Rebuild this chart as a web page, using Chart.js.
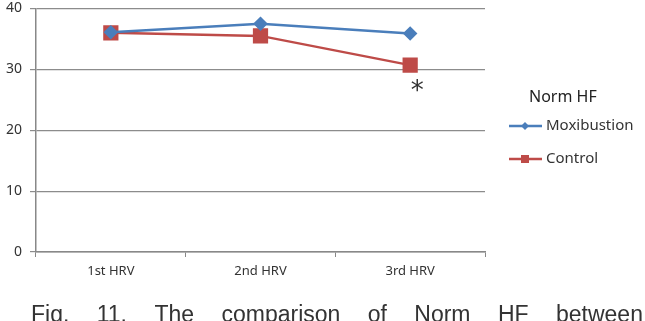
<!DOCTYPE html>
<html>
<head>
<meta charset="utf-8">
<script src="https://cdn.jsdelivr.net/npm/chart.js@4"></script>
<style>
    body { margin: 0; background: #fff; }
    .wrap { position: relative; width: 645px; height: 321px; overflow: hidden; }
    #myChart { position: absolute; left: 0; top: -3px; }
    .caption {
        position: absolute; left: 31px; width: 612px; top: 303px;
        font-family: 'Liberation Sans', sans-serif; font-size: 23px; line-height: 23px; color: #333;
        white-space: nowrap; display: flex; justify-content: space-between;
    }
</style>
</head>
<body>
<div class="wrap">
    <canvas id="myChart" width="645" height="324"></canvas>
    <div class="caption"><span>Fig.</span><span>11.</span><span>The</span><span>comparison</span><span>of</span><span>Norm</span><span>HF</span><span>between</span></div>
</div>
<script>
// data
const labels = ['1st HRV', '2nd HRV', '3rd HRV'];
const moxibustion = [36.1, 37.5, 35.9];
const control = [36.0, 35.5, 30.7];
const yTicks = [0, 10, 20, 30, 40];

const blue = '#4a7ebb';
const red = '#be4b48';

// legend + asterisk drawn by hand, Excel style
const extras = {
    id: 'extras',
    afterDraw(chart) {
        const ctx = chart.ctx;
        ctx.save();
        // asterisk under the 3rd control point
        const x = chart.scales.x.getPixelForValue(2);
        const y = chart.scales.y.getPixelForValue(control[2]);
        ctx.fillStyle = '#333';
        ctx.font = '26px "DejaVu Sans", sans-serif';
        ctx.textAlign = 'center';
        ctx.textBaseline = 'middle';
        ctx.fillText('*', x + 7, y + 27);

        // legend (canvas is shifted up 3px)
        const dy = 3;
        ctx.textAlign = 'left';
        ctx.fillStyle = '#222';
        ctx.font = '16px "Noto Sans", sans-serif';
        ctx.fillText('Norm HF', 529, 97 + dy);
        const items = [
            {label: 'Moxibustion', color: blue, y: 126 + dy, style: 'diamond'},
            {label: 'Control', color: red, y: 159 + dy, style: 'square'}
        ];
        items.forEach(it => {
            ctx.strokeStyle = it.color;
            ctx.lineWidth = 2.5;
            ctx.beginPath();
            ctx.moveTo(509, it.y);
            ctx.lineTo(542, it.y);
            ctx.stroke();
            ctx.fillStyle = it.color;
            if (it.style === 'diamond') {
                ctx.beginPath();
                ctx.moveTo(525, it.y - 4);
                ctx.lineTo(529, it.y);
                ctx.lineTo(525, it.y + 4);
                ctx.lineTo(521, it.y);
                ctx.closePath();
                ctx.fill();
            } else {
                ctx.fillRect(521, it.y - 4, 8, 8);
            }
            ctx.fillStyle = '#333';
            ctx.font = '15px "Noto Sans", sans-serif';
            ctx.fillText(it.label, 546, it.y);
        });
        ctx.restore();
    }
};

new Chart(document.querySelector('#myChart'), {
    type: 'line',
    data: {
        labels: labels,
        datasets: [
            {
                label: 'Moxibustion',
                data: moxibustion,
                borderColor: blue,
                backgroundColor: blue,
                borderWidth: 2.5,
                pointStyle: 'rectRot',
                pointRadius: 5.5,
                tension: 0
            },
            {
                label: 'Control',
                data: control,
                borderColor: red,
                backgroundColor: red,
                borderWidth: 2.5,
                pointStyle: 'rect',
                pointRadius: 9,
                tension: 0
            }
        ]
    },
    options: {
        responsive: false,
        animation: false,
        layout: {
            padding: {left: 0, top: 6, right: 160, bottom: 0}
        },
        plugins: {
            legend: {display: false},
            tooltip: {enabled: false}
        },
        scales: {
            x: {
                offset: true,
                afterFit: (s) => { s.height = 69; s.paddingLeft = 0; s.paddingRight = 0; },
                grid: {
                    display: true,
                    offset: true,
                    drawOnChartArea: false,
                    tickLength: 5,
                    color: '#888'
                },
                border: {color: '#888', width: 1.5},
                ticks: {
                    padding: 6,
                    color: '#333',
                    font: {family: 'Noto Sans', size: 13}
                }
            },
            y: {
                min: 0,
                max: 40,
                afterFit: (s) => { s.width = 36; s.paddingTop = 0; s.paddingBottom = 0; },
                afterBuildTicks: (s) => { s.ticks = yTicks.map(v => ({value: v})); },
                grid: {
                    color: '#8c8c8c',
                    lineWidth: 1.2,
                    tickLength: 6
                },
                border: {color: '#888', width: 1.5},
                ticks: {
                    padding: 8,
                    color: '#333',
                    font: {family: 'Noto Sans', size: 14}
                }
            }
        }
    },
    plugins: [extras]
});
</script>
</body>
</html>
